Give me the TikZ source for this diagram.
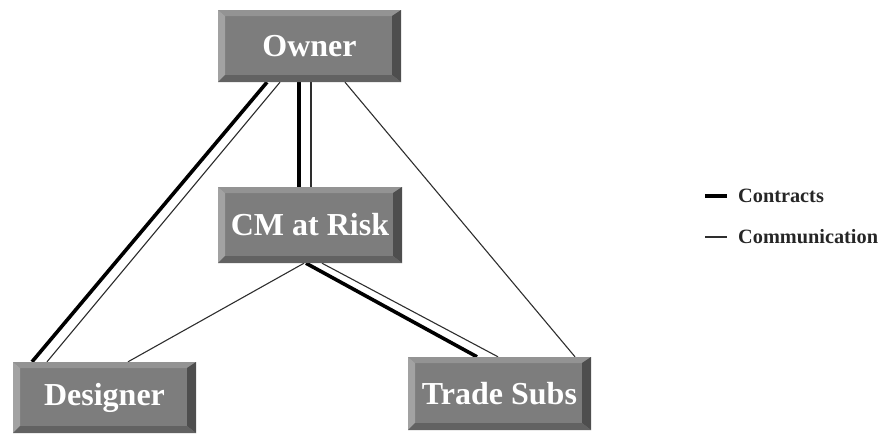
\documentclass[tikz,border=0pt]{standalone}
\usepackage{fontspec}
\setmainfont{Liberation Serif}
\usetikzlibrary{calc,backgrounds}

\definecolor{faceGray}{HTML}{7D7D7D}
\definecolor{bevTop}{HTML}{939393}
\definecolor{bevLeft}{HTML}{A2A2A2}
\definecolor{bevRight}{HTML}{4E4E4E}
\definecolor{bevBottom}{HTML}{626262}
\definecolor{thinLine}{HTML}{2E2E2E}

\tikzset{
  partybox/.style={
    rectangle, fill=faceGray, text=white, inner sep=0pt,
    font=\bfseries\fontsize{32}{36}\selectfont,
    path picture={
      \coordinate (nw) at (path picture bounding box.north west);
      \coordinate (ne) at (path picture bounding box.north east);
      \coordinate (sw) at (path picture bounding box.south west);
      \coordinate (se) at (path picture bounding box.south east);
      \coordinate (inw) at ($(nw)+(7pt,-6pt)$);
      \coordinate (ine) at ($(ne)+(-9pt,-6pt)$);
      \coordinate (isw) at ($(sw)+(7pt,7pt)$);
      \coordinate (ise) at ($(se)+(-9pt,7pt)$);
      \fill[bevTop] (nw) -- (ne) -- (ine) -- (inw) -- cycle;
      \fill[bevLeft] (nw) -- (inw) -- (isw) -- (sw) -- cycle;
      \fill[bevRight] (ne) -- (se) -- (ise) -- (ine) -- cycle;
      \fill[bevBottom] (sw) -- (isw) -- (ise) -- (se) -- cycle;
    }
  },
  contract/.style={line width=3.6pt, black},
  comm/.style={line width=1.1pt, thinLine},
  legendtext/.style={anchor=west, inner sep=0pt, text=black!85,
    font=\bfseries\fontsize{20.3}{23}\selectfont}
}

\begin{document}
\begin{tikzpicture}[x=1pt, y=-1pt]
  \useasboundingbox (0,0) rectangle (880,434);

  % the four parties
  \node[partybox, minimum width=183pt, minimum height=72pt] (owner) at (309.5,46) {Owner};
  \node[partybox, minimum width=184pt, minimum height=76pt] (cm) at (310,225) {CM at Risk};
  \node[partybox, minimum width=183pt, minimum height=71pt] (designer) at (104.5,397.5) {Designer};
  \node[partybox, minimum width=183pt, minimum height=73pt] (trade) at (499.5,393.5) {Trade Subs};

  % relationships, kept behind the boxes
  \begin{scope}[on background layer]
    % owner -- designer
    \draw[contract] ($(owner.south)+(-42.5,0)$) -- ($(designer.north)+(-72.5,0)$);
    \draw[comm]     ($(owner.south)+(-29.5,0)$) -- ($(designer.north)+(-57.5,0)$);
    % owner -- CM at risk
    \draw[contract] ($(owner.south)+(-10.5,0)$) -- ($(cm.north)+(-11,0)$);
    \draw[comm]     ($(owner.south)+(1.5,0)$)   -- ($(cm.north)+(1,0)$);
    % owner -- trade subs
    \draw[comm]     ($(owner.south)+(35.5,0)$)  -- ($(trade.north)+(75.5,0)$);
    % CM at risk -- designer
    \draw[comm]     ($(cm.south)+(-6,0)$)       -- ($(designer.north)+(23.5,0)$);
    % CM at risk -- trade subs
    \draw[contract] ($(cm.south)+(-4,0)$)       -- ($(trade.north)+(-22.5,0)$);
    \draw[comm]     ($(cm.south)+(12,0)$)       -- ($(trade.north)+(-1.5,0)$);
  \end{scope}

  % legend
  \coordinate (k1a) at (705,196);
  \coordinate (k1b) at (727,196);
  \coordinate (k2a) at (705,237);
  \coordinate (k2b) at (727,237);
  \draw[contract] (k1a) -- (k1b);
  \draw[comm] (k2a) -- (k2b);
  \node[legendtext] (lcontracts) at (738,196) {Contracts};
  \node[legendtext] (lcomm) at (738,237) {Communication};
\end{tikzpicture}
\end{document}
